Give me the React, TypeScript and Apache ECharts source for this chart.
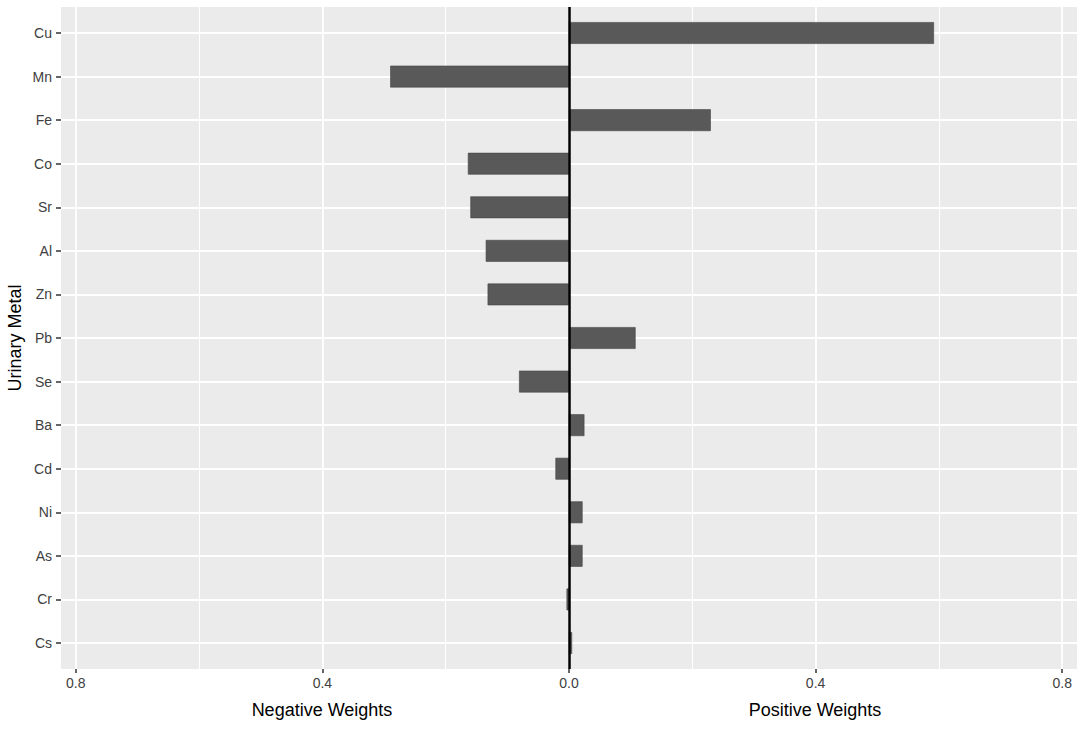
import React, { useEffect, useRef } from "react";
import * as echarts from "echarts";

const categories = ["Cu", "Mn", "Fe", "Co", "Sr", "Al", "Zn", "Pb", "Se", "Ba", "Cd", "Ni", "As", "Cr", "Cs"];
const weights = [0.592, -0.29, 0.23, -0.164, -0.16, -0.135, -0.132, 0.108, -0.081, 0.025, -0.022, 0.022, 0.022, -0.004, 0.005];
const majorBreaks = [-0.8, -0.4, 0, 0.4, 0.8];
const breakStep = 0.4;
const xLimit = 0.824;
const negTitle = "Negative Weights";
const posTitle = "Positive Weights";
const yTitle = "Urinary Metal";

const FONT = "'Liberation Sans', Arial, Helvetica, sans-serif";

export default function App() {
  const ref = useRef<HTMLDivElement>(null);
  useEffect(() => {
    if (!ref.current) return;
    const chart = echarts.init(ref.current, null, { renderer: "svg" });
    const pL = 61, pR = 1077, pT = 7, pB = 669;
    const W = 1084, H = 731;
    const perUnit = (pR - pL) / (2 * xLimit);
    const zeroX = pL + xLimit * perUnit;
    const gL = zeroX - 0.8 * perUnit;
    const gR = zeroX + 0.8 * perUnit;
    const option: any = {
      animation: false,
      backgroundColor: "#ffffff",
      textStyle: { fontFamily: FONT },
      grid: [
        { left: pL, right: W - pR, top: pT, bottom: H - pB, show: true, backgroundColor: "#EBEBEB", borderWidth: 0 },
        { left: pL, right: W - pR, top: 33, bottom: H - 643, show: false },
        { left: gL, right: W - gR, top: pT, bottom: H - pB, show: false },
      ],
      xAxis: [
        {
          type: "value",
          gridIndex: 0,
          min: -xLimit,
          max: xLimit,
          axisLine: { show: false },
          splitLine: { show: false },
          axisTick: { show: true, customValues: majorBreaks, length: 4, lineStyle: { color: "#333333", width: 1.5 } },
          axisLabel: {
            customValues: majorBreaks,
            formatter: (v: number) => Math.abs(v).toFixed(1),
            fontSize: 14,
            color: "#404040",
            fontFamily: FONT,
            margin: 7,
          },
        },
        {
          type: "value",
          gridIndex: 1,
          min: -xLimit,
          max: xLimit,
          show: false,
          splitLine: { show: false },
        },
        {
          type: "value",
          gridIndex: 2,
          min: -0.8,
          max: 0.8,
          interval: breakStep,
          axisLine: { show: false },
          axisTick: { show: false },
          axisLabel: { show: false },
          splitLine: { show: true, lineStyle: { color: "#FFFFFF", width: 1.8 } },
          minorTick: { show: false, splitNumber: 2 },
          minorSplitLine: { show: true, lineStyle: { color: "#FFFFFF", width: 1.1 } },
        },
      ],
      yAxis: [
        { type: "value", gridIndex: 0, min: 0, max: 1, show: false, splitLine: { show: false } },
        {
          type: "category",
          gridIndex: 1,
          data: categories,
          inverse: true,
          boundaryGap: false,
          position: "left",
          axisLine: { show: false, onZero: false },
          axisTick: { show: true, length: 5, lineStyle: { color: "#333333", width: 1.5 } },
          axisLabel: { fontSize: 14, color: "#404040", fontFamily: FONT, margin: 9 },
          splitLine: { show: true, lineStyle: { color: "#FFFFFF", width: 1.8 } },
        },
        { type: "value", gridIndex: 2, min: 0, max: 1, show: false, splitLine: { show: false } },
      ],
      series: [
        {
          type: "bar",
          xAxisIndex: 1,
          yAxisIndex: 1,
          data: weights,
          barWidth: "50%",
          itemStyle: { color: "#595959", borderColor: "#454545", borderWidth: 0.6 },
          z: 3,
        },
        {
          type: "scatter",
          xAxisIndex: 0,
          yAxisIndex: 0,
          data: [[0, 0.5]],
          symbolSize: 0,
          silent: true,
          z: 10,
          markLine: {
            silent: true,
            symbol: "none",
            label: { show: false },
            animation: false,
            data: [{ xAxis: 0, lineStyle: { color: "#000000", width: 2.5, type: "solid" } }],
          },
        },
      ],
      graphic: [
        {
          type: "text",
          x: 322,
          y: 710,
          style: { text: negTitle, fontSize: 18, fontFamily: FONT, fill: "#000000", align: "center", verticalAlign: "middle" },
        },
        {
          type: "text",
          x: 815,
          y: 710,
          style: { text: posTitle, fontSize: 18, fontFamily: FONT, fill: "#000000", align: "center", verticalAlign: "middle" },
        },
        {
          type: "text",
          x: 15,
          y: 338,
          rotation: Math.PI / 2,
          style: { text: yTitle, fontSize: 18, fontFamily: FONT, fill: "#000000", align: "center", verticalAlign: "middle" },
        },
      ],
    };
    chart.setOption(option);
    return () => chart.dispose();
  }, []);
  return (
    <div
      ref={ref}
      style={{ position: "fixed", left: 0, top: 0, width: 1084, height: 731, background: "#ffffff" }}
    />
  );
}
